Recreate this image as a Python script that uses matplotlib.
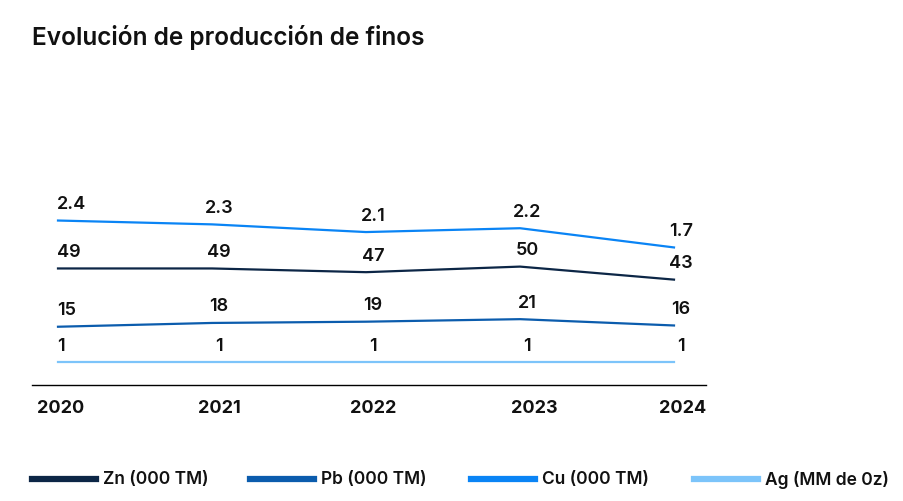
import matplotlib
matplotlib.use("Agg")
import matplotlib.pyplot as plt
from matplotlib.lines import Line2D
import matplotlib.transforms as mtrans

years = [2020, 2021, 2022, 2023, 2024]
series_names = ["Zn (000 TM)", "Pb (000 TM)", "Cu (000 TM)", "Ag (MM de 0z)"]
zn = [49, 49, 47, 50, 43]
pb = [15, 18, 19, 21, 16]
cu = [2.4, 2.3, 2.1, 2.2, 1.7]
ag = [1, 1, 1, 1, 1]
colors = ["#0c2646", "#0b5cad", "#0a84f5", "#7cc4fa"]
# per-series scale limits (each series uses its own y scale)
ylims = [(-13.5, 97.1), (-30.9, 132.0), (-1.87, 3.48), (-1.25, 19.3)]
values = [zn, pb, cu, ag]

plt.rcParams['font.family'] = ['Inter', 'DejaVu Sans']
W, H = 904, 502
fig = plt.figure(figsize=(W / 100, H / 100), dpi=100)

ax_l, ax_r, ax_top, ax_bot = 32, 706, 180, 385.7
ax = fig.add_axes([ax_l / W, 1 - ax_bot / H, (ax_r - ax_l) / W, (ax_bot - ax_top) / H])
x0_px, step_px = 58, 154
xmin = years[0] - (x0_px - ax_l) / step_px
xmax = years[0] + (ax_r - x0_px) / step_px
ax.set_xlim(xmin, xmax)
ax.set_ylim(0, 1)
for s in ["top", "left", "right"]:
    ax.spines[s].set_visible(False)
ax.spines["bottom"].set_color("black")
ax.spines["bottom"].set_linewidth(1.0)
ax.set_yticks([])
ax.set_xticks(years)
ax.set_xticklabels([str(y) for y in years], fontsize=13, fontweight="bold", color="#111111")
ax.tick_params(axis="x", length=0, pad=10)
offs = [3, 7, 7, 14, 9]
for lab, o in zip(ax.get_xticklabels(), offs):
    lab.set_transform(lab.get_transform() + mtrans.ScaledTranslation(o / 100, 0, fig.dpi_scale_trans))

for vals, col, yl in zip(values, colors, ylims):
    tw = ax.twinx()
    tw.set_ylim(*yl)
    tw.set_xlim(xmin, xmax)
    tw.set_axis_off()
    tw.plot(years, vals, color=col, lw=1.6, solid_joinstyle="round")
    for i, (x, v) in enumerate(zip(years, vals)):
        txt = f"{v:g}"
        if i == 0:
            tw.annotate(txt, (x, v), xytext=(-1, 17), textcoords="offset pixels",
                        ha="left", va="center", fontsize=13, fontweight="semibold", color="#111111")
        else:
            tw.annotate(txt, (x, v), xytext=(7, 17), textcoords="offset pixels",
                        ha="center", va="center", fontsize=13, fontweight="semibold", color="#111111")

fig.text(32 / W, 1 - 38 / H, "Evolución de producción de finos", fontsize=17.6,
         fontweight="semibold", ha="left", va="center", color="#111111")

# legend
leg_y = 1 - 480 / H
starts = [32, 250, 471, 694]
for name, col, sx in zip(series_names, colors, starts):
    fig.add_artist(Line2D([sx / W, (sx + 64) / W], [leg_y, leg_y], color=col, lw=4.5,
                          transform=fig.transFigure))
    fig.text((sx + 71) / W, leg_y, name, fontsize=12.5, fontweight="semibold",
             ha="left", va="center", color="#111111")

fig.savefig("out.png", dpi=100)
